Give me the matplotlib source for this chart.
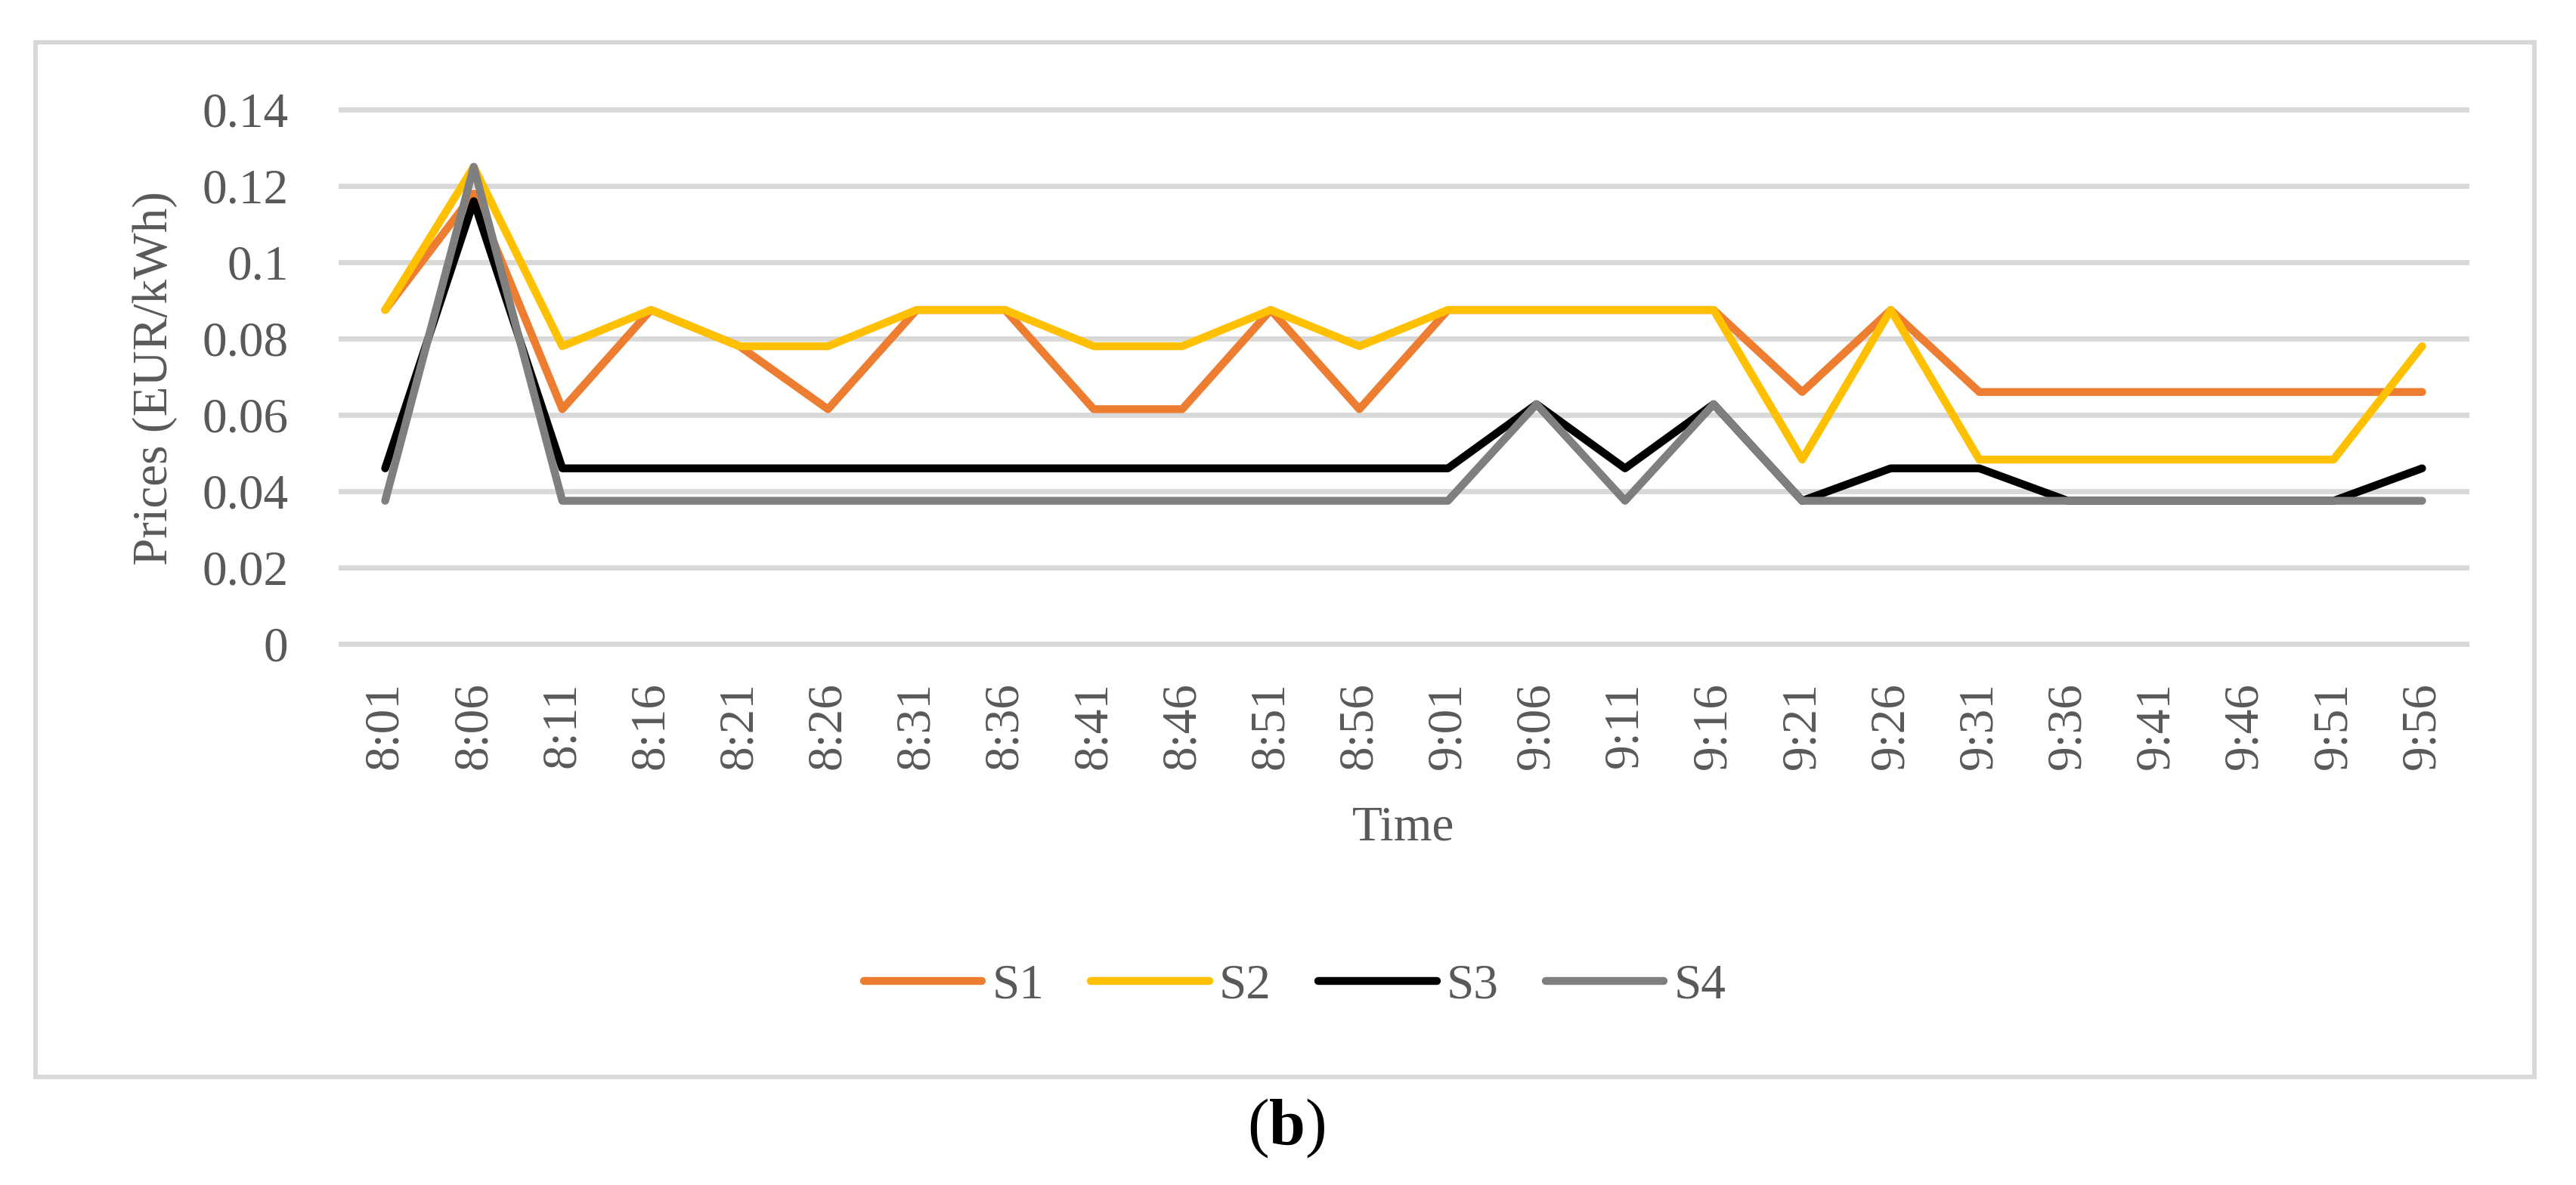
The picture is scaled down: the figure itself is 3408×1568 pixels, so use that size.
import matplotlib
matplotlib.use("Agg")
import matplotlib.pyplot as plt
from matplotlib.patches import Rectangle

# ---- data ----
times = ["8:01", "8:06", "8:11", "8:16", "8:21", "8:26", "8:31", "8:36",
         "8:41", "8:46", "8:51", "8:56", "9:01", "9:06", "9:11", "9:16",
         "9:21", "9:26", "9:31", "9:36", "9:41", "9:46", "9:51", "9:56"]

s1 = [0.0875, 0.118, 0.0615, 0.0875, 0.078, 0.0615, 0.0875, 0.0875,
      0.0615, 0.0615, 0.0875, 0.0615, 0.0875, 0.0875, 0.0875, 0.0875,
      0.066, 0.0875, 0.066, 0.066, 0.066, 0.066, 0.066, 0.066]
s2 = [0.0875, 0.125, 0.078, 0.0875, 0.078, 0.078, 0.0875, 0.0875,
      0.078, 0.078, 0.0875, 0.078, 0.0875, 0.0875, 0.0875, 0.0875,
      0.0483, 0.0875, 0.0483, 0.0483, 0.0483, 0.0483, 0.0483, 0.078]
s3 = [0.046, 0.116, 0.046, 0.046, 0.046, 0.046, 0.046, 0.046,
      0.046, 0.046, 0.046, 0.046, 0.046, 0.0628, 0.046, 0.0628,
      0.0375, 0.046, 0.046, 0.0375, 0.0375, 0.0375, 0.0375, 0.046]
s4 = [0.0375, 0.125, 0.0375, 0.0375, 0.0375, 0.0375, 0.0375, 0.0375,
      0.0375, 0.0375, 0.0375, 0.0375, 0.0375, 0.0628, 0.0375, 0.0628,
      0.0375, 0.0375, 0.0375, 0.0375, 0.0375, 0.0375, 0.0375, 0.0375]

series_names = ["S1", "S2", "S3", "S4"]
series_colors = ["#ED7D31", "#FFC000", "#000000", "#7F7F7F"]

yticks = [0, 0.02, 0.04, 0.06, 0.08, 0.10, 0.12, 0.14]
ytick_labels = ["0", "0.02", "0.04", "0.06", "0.08", "0.1", "0.12", "0.14"]

y_label = "Prices (EUR/kWh)"
x_label = "Time"

# ---- styling ----
plt.rcParams['font.family'] = ['Liberation Serif', 'DejaVu Serif']
plt.rcParams['mathtext.fontset'] = 'custom'
plt.rcParams['mathtext.rm'] = 'Liberation Serif'
plt.rcParams['mathtext.bf'] = 'Liberation Serif:bold'

W, H = 3408, 1568
fig = plt.figure(figsize=(W / 100, H / 100), dpi=100)


def fx(px):
    return px / W


def fy(py):
    return 1 - py / H


TXT = "#595959"
GRID = "#D9D9D9"
FS = 47

ax = fig.add_axes([fx(451), fy(852), fx(3263) - fx(451), fy(145) - fy(852)])
x = list(range(len(times)))
for vals, name, c in zip([s1, s2, s3, s4], series_names, series_colors):
    ax.plot(x, vals, color=c, lw=7.5, label=name,
            solid_joinstyle='round', solid_capstyle='round', zorder=3)

ax.set_xlim(-0.5, len(times) - 0.5)
ax.set_ylim(0, 0.14)
ax.set_yticks(yticks)
ax.set_yticklabels(ytick_labels)
ax.set_xticks(x)
ax.set_xticklabels(times, rotation=90)
ax.tick_params(axis='both', length=0, labelsize=FS, labelcolor=TXT)
ax.tick_params(axis='y', pad=50)
ax.tick_params(axis='x', pad=36)
for yv in yticks:
    ax.axhline(yv, color=GRID, lw=5, zorder=1, clip_on=False)
for s in ax.spines.values():
    s.set_visible(False)

fig.text(fx(205), fy(500), y_label, rotation=90, ha='center', va='center',
         fontsize=FS, color=TXT)
fig.text(fx(1857), fy(1111), x_label, ha='center', va='baseline',
         fontsize=FS, color=TXT)

handles, labels = ax.get_legend_handles_labels()
fig.legend(handles, labels, loc='center', bbox_to_anchor=(fx(1713), fy(1305)),
           ncol=4, frameon=False, fontsize=FS, handlelength=2.4,
           handletextpad=0.2, columnspacing=0.95, labelcolor=TXT)

fig.add_artist(Rectangle((fx(47), fy(1425)), fx(3353) - fx(47), fy(56) - fy(1425),
                         transform=fig.transFigure, fill=False, ec=GRID, lw=4.3))

fig.text(fx(1702), fy(1514), r"($\mathbf{b}$)", ha='center', va='baseline',
         fontsize=62, color='black')

fig.savefig("out.png", dpi=100, facecolor='white')
